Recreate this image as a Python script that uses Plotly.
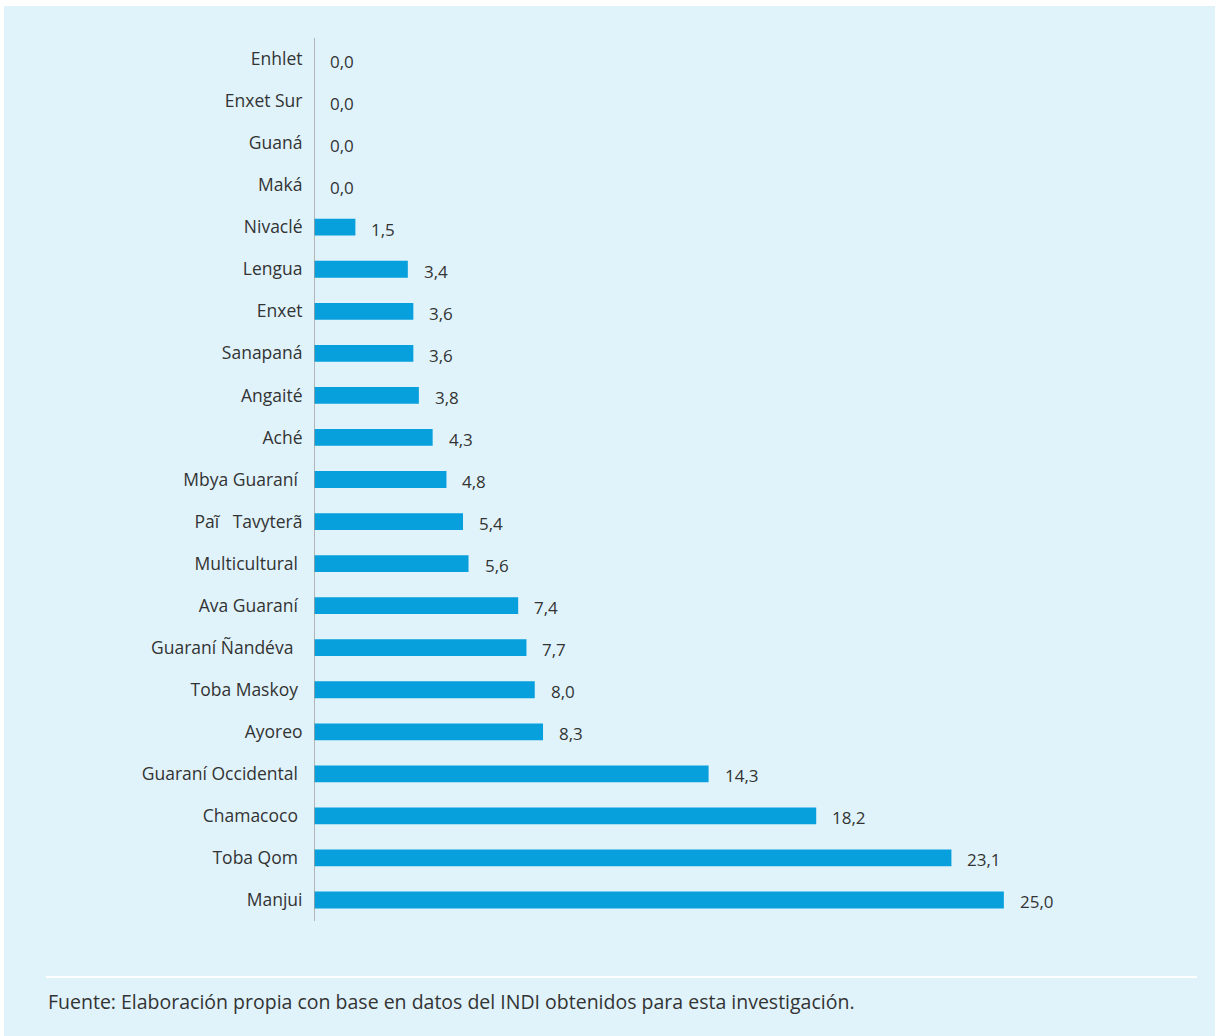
import plotly.graph_objects as go

categories = ["Enhlet", "Enxet Sur", "Guaná", "Maká", "Nivaclé", "Lengua", "Enxet",
              "Sanapaná", "Angaité", "Aché", "Mbya Guaraní ", "Paĩ   Tavyterã",
              "Multicultural ", "Ava Guaraní ", "Guaraní Ñandéva  ", "Toba Maskoy ",
              "Ayoreo", "Guaraní Occidental ", "Chamacoco ", "Toba Qom ", "Manjui"]
values = [0.0, 0.0, 0.0, 0.0, 1.5, 3.4, 3.6, 3.6, 3.8, 4.3, 4.8, 5.4, 5.6, 7.4,
          7.7, 8.0, 8.3, 14.3, 18.2, 23.1, 25.0]
value_labels = [f"{v:.1f}".replace(".", ",") for v in values]

source_text = "Fuente: Elaboración propia con base en datos del INDI obtenidos para esta investigación."

FONT = "Open Sans"
TXT = "#333333"
BG = "#e0f3fb"

fig = go.Figure()
fig.add_trace(go.Bar(
    y=categories, x=values, orientation="h",
    marker=dict(color="#079fdc", line=dict(width=0)),
    width=0.4, hoverinfo="skip",
))

for c, v, t in zip(categories, values, value_labels):
    fig.add_annotation(x=v, y=c, text=t, showarrow=False, xanchor="left",
                       xshift=14, yshift=-2, font=dict(family=FONT, size=17, color=TXT))

W, H = 1215, 1036
fig.update_layout(
    width=W, height=H,
    margin=dict(l=314, r=18, t=38, b=115),
    paper_bgcolor="white", plot_bgcolor=BG,
    showlegend=False,
    bargap=0.6,
    xaxis=dict(range=[0, 32], visible=False, fixedrange=True),
    yaxis=dict(autorange="reversed", showgrid=False, zeroline=False,
               showline=False, ticks="outside", ticklen=7,
               tickcolor="rgba(0,0,0,0)",
               tickfont=dict(family=FONT, size=17.5, color=TXT), fixedrange=True),
    font=dict(family=FONT, size=17, color=TXT),
)

# light blue panel behind everything
fig.add_shape(type="rect", xref="paper", yref="paper",
              x0=-310 / (W - 314 - 18), x1=(W - 314) / (W - 314 - 18),
              y0=-(115) / (H - 38 - 115), y1=(H - 6 - 115) / (H - 38 - 115),
              fillcolor=BG, line=dict(width=0), layer="below")
# axis line
fig.add_shape(type="line", xref="x", yref="paper", x0=0, x1=0, y0=0, y1=1,
              line=dict(color="#a0a0a0", width=1.5))
# footer separator
fig.add_shape(type="line", xref="paper", yref="paper",
              x0=(46 - 314) / (W - 332), x1=(1197 - 314) / (W - 332),
              y0=-(977 - (H - 115)) / (H - 153), y1=-(977 - (H - 115)) / (H - 153),
              line=dict(color="white", width=2))
fig.add_annotation(xref="paper", yref="paper",
                   x=(46 - 314) / (W - 332), y=-(1001 - (H - 115)) / (H - 153),
                   xanchor="left", yanchor="middle", showarrow=False,
                   text=source_text, font=dict(family=FONT, size=19.5, color=TXT))

fig.write_html("out.html")
